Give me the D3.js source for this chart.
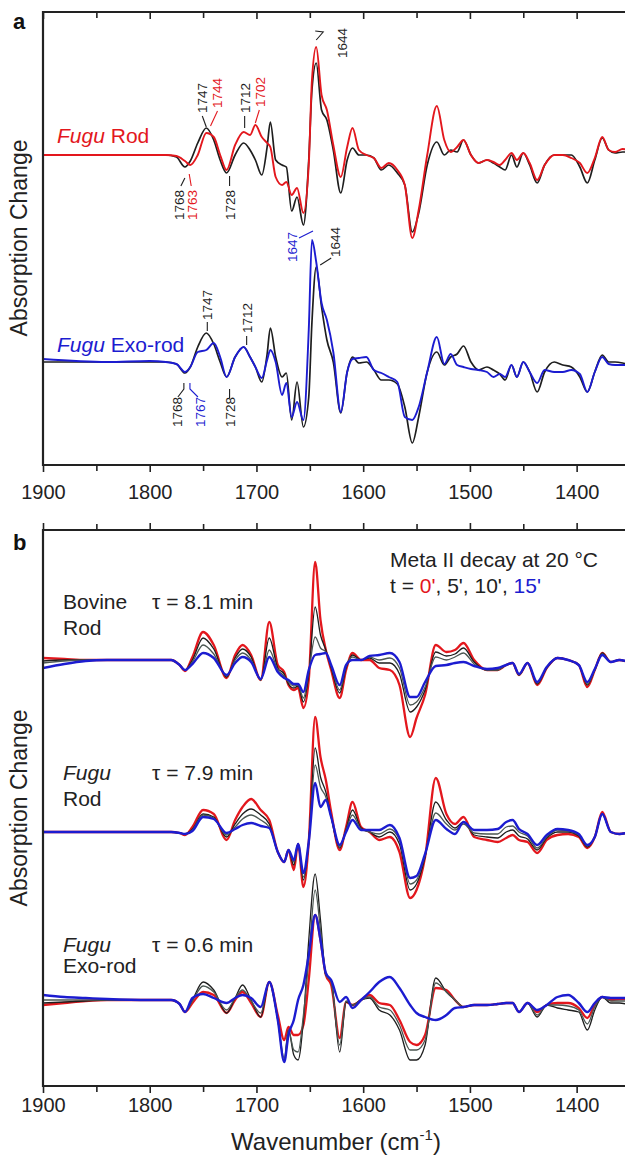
<!DOCTYPE html>
<html>
<head>
<meta charset="utf-8">
<script src="https://cdn.jsdelivr.net/npm/d3@7"></script>
<style>
body { margin: 0; background: #fff; }
text { font-family: Arial, "Liberation Sans", sans-serif; }
</style>
</head>
<body>
<div id="fig"></div>
<script>
// ---- data ----
var majorTicks = [1900, 1800, 1700, 1600, 1500, 1400];
var minorTicks = [1850, 1750, 1650, 1550, 1450];

// panel a: wavenumber grid
var wnA = [1900,1840,1800,1785,1775,1767,1762,1755,1747,1740,
           1734,1728,1720,1712,1706,1701,1695,1690,1687,1682,
           1676,1672,1667,1662,1656,1651,1648,1644,1639,1634,
           1628,1621,1615,1610,1604,1597,1590,1583,1576,1568,
           1561,1554,1548,1540,1531,1524,1518,1512,1506,1499,
           1492,1484,1478,1472,1467,1461,1456,1450,1444,1437,
           1430,1421,1413,1405,1397,1390,1383,1376,1370,1364,
           1357,1350];
// upper pair: bovine rod (black) vs Fugu rod (red)
var aRodBlack = [0,0,0,0,-2,-12,-6,12,27,15,
                 -5,-18,0,12,5,-5,-20,8,33,-5,
                 -10,-12,-56,-42,-70,-5,65,92,45,35,
                 5,-38,-5,7,0,0,-3,-15,-10,-18,
                 -30,-77,-58,-10,13,0,5,3,15,0,
                 -8,-5,-8,-12,-15,0,-12,2,-10,-28,
                 -10,0,0,0,-12,-28,-5,17,5,2,
                 3,3];
var aRodRed = [0,0,0,0,-1,-6,-10,0,22,18,
               0,-15,10,23,20,30,18,12,8,-22,
               -30,-27,-40,-33,-58,-10,75,108,60,45,
               10,-22,8,27,5,0,-3,-13,-8,-15,
               -30,-83,-55,0,49,15,3,8,15,0,
               -8,-5,-7,-10,-5,2,-5,2,-8,-25,
               -10,0,0,-3,-8,-18,-3,18,5,3,
               6,5];
// lower pair: bovine rod (black) vs Fugu exo-rod (blue)
var aExoBlack = [0,0,0,0,-2,-11,-5,15,29,18,
                 0,-15,5,15,5,-5,-20,8,34,5,
                 -15,-11,-58,-20,-65,-35,40,95,55,22,
                 0,-51,-10,5,-1,0,-8,-18,-18,-22,
                 -45,-81,-55,-10,10,-3,5,8,16,0,
                 -8,-5,-8,-12,-18,-3,-15,0,-10,-30,
                 -10,0,-3,-5,-15,-30,-10,7,0,0,
                 -1,-3];
var aExoBlue = [3,0,1,0,-2,-10,-5,10,12,19,
                5,-15,5,15,5,-5,-16,2,12,0,
                -33,-21,-55,-40,-58,32,122,100,59,42,
                10,-50,-10,3,4,5,-8,-11,-15,-20,
                -55,-58,-45,-10,25,-2,8,-3,-5,-7,
                -8,-10,-15,-12,-15,-3,-15,0,-10,-21,
                -8,-10,-10,-8,-12,-30,-10,5,-2,-3,
                -3,-3];

// panel b: Meta II decay, t = 0', 5', 10', 15'
var wnB = [1900,1880,1860,1840,1800,1780,1772,1767,1760,1750,
           1740,1728,1720,1713,1705,1696,1688,1680,1674,1670,
           1665,1661,1656,1651,1645,1640,1635,1630,1622,1616,
           1610,1602,1594,1585,1575,1566,1556,1550,1542,1532,
           1522,1514,1506,1496,1484,1474,1466,1460,1454,1446,
           1437,1428,1418,1408,1398,1390,1383,1376,1368,1360,1350];
var bovT0  = [2,1,0,0,0,0,-5,-11,3,28, 15,-18,5,15,5,-20,38,-5,-12,-25,
              -30,-28,-48,-20,98,40,10,-10,-38,-10, 7,0,0,-8,-10,-25,-77,-58,-35,15,
              8,10,17,0,-10,-10,-5,-3,-15,-3, -25,-8,2,0,-5,-27,-10,7,-2,0,-3];
var bovT5  = [-1,0,0,0,0,0,-5,-10,0,22, 11,-17,2,11,3,-20,22,-8,-14,-24,
              -28,-26,-42,-15,53,25,10,-8,-33,-8, 5,0,2,-3,-3,-14,-52,-47,-30,8,
              4,6,12,-2,-10,-10,-5,-3,-15,-3, -24,-8,2,0,-5,-25,-10,7,-2,0,-3];
var bovT10 = [-3,-1,0,0,0,0,-5,-10,-2,15, 6,-16,0,7,0,-20,10,-10,-16,-22,
              -26,-25,-38,-12,23,12,8,-6,-30,-6, 3,0,3,0,2,-8,-45,-42,-27,3,
              0,3,7,-4,-10,-10,-5,-3,-15,-3, -23,-7,2,0,-5,-24,-10,6,-2,0,-3];
var bovT15 = [-8,-4,-1,0,0,0,-5,-10,-4,7, 2,-15,-3,3,-2,-19,3,-12,-18,-20,
              -24,-24,-32,-10,5,6,7,-5,-25,-5, 0,0,4,5,7,-2,-37,-37,-22,-6,
              -5,-3,-2,-6,-9,-8,-5,-3,-14,-3, -22,-7,2,0,-5,-22,-9,5,-2,0,-2];
var rodT0  = [0,0,0,0,0,0,-1,-3,5,22, 18,-8,12,25,33,22,12,-20,-30,-18,
              -38,-12,-55,-10,115,75,52,20,-18,5, 30,5,0,-8,-5,-20,-66,-58,-25,54,
              18,8,15,-5,-8,-10,-6,-3,-8,-10, -21,-8,-3,-2,-5,-16,-5,20,0,-2,0];
var rodT5  = [0,0,0,0,0,0,-1,-2,3,18, 15,-5,8,18,23,17,8,-20,-30,-18,
              -33,-12,-48,-10,84,55,40,15,-16,3, 22,4,0,-5,0,-12,-58,-52,-25,30,
              12,4,10,-3,-5,-6,0,2,-4,-7, -18,-6,0,0,-4,-15,-5,18,0,-2,0];
var rodT10 = [0,0,0,0,0,0,-1,-2,2,17, 14,-3,5,13,17,12,5,-20,-30,-18,
              -30,-12,-45,-10,67,45,35,15,-15,2, 17,3,0,-2,3,-8,-52,-48,-23,19,
              8,2,8,-1,-2,-2,5,6,0,-4, -16,-5,2,1,-3,-14,-5,18,0,-2,0];
var rodT15 = [0,0,0,0,0,0,-1,-2,1,15, 13,-1,3,7,9,6,4,-20,-30,-18,
              -28,-12,-41,-10,49,25,32,15,-13,0, 12,2,2,2,7,-6,-46,-44,-22,12,
              3,-2,10,2,2,3,10,12,3,-2, -13,-3,3,2,-2,-13,-5,18,0,-2,0];
var exoT0  = [-5,-3,-1,0,0,0,-4,-12,-3,8, 5,-13,0,8,-3,-17,18,-15,-40,-27,
              -35,-35,-25,20,85,60,25,15,-38,-2, -5,0,5,-3,-5,-20,-42,-45,-35,12,
              10,0,-7,-5,-5,-4,-3,-3,-12,-3, -12,-5,-3,-3,-8,-18,-5,3,0,1,1];
var exoT5  = [-3,-2,-1,0,0,0,-4,-12,0,18, 10,-13,2,15,0,-17,18,-20,-62,-30,
              -55,-60,-20,60,126,80,25,20,-52,-2, -5,0,2,-10,-15,-30,-60,-60,-45,22,
              8,0,-7,-5,-5,-4,-3,-3,-12,-3, -17,-5,-8,-10,-12,-30,-10,3,-3,-3,-5];
var exoT10 = [0,0,0,0,0,0,-4,-12,-1,14, 8,-10,2,10,-1,-13,18,-20,-58,-30,
              -50,-52,-15,40,110,70,25,18,-45,-1, -5,0,3,-7,-10,-25,-50,-50,-40,17,
              8,0,-7,-5,-5,-4,-3,-3,-12,-3, -15,-5,-5,-6,-10,-24,-7,3,-1,-1,-1];
var exoT15 = [5,3,2,1,0,0,-4,-12,2,6, 2,-3,2,5,2,-7,18,-20,-62,-35,
              -20,0,15,45,85,60,27,20,-2,3, -8,0,8,18,23,12,-5,-13,-17,-20,
              -15,-8,-7,-5,-5,-4,-3,-3,-12,-3, -10,-5,3,5,-3,-12,-3,3,2,2,2];

// peak labels of panel a
var peaksUpper = [
  {t: "1768", c: "k", wn: 1768, dx: 0,  y: 220, lead: [[-3,186],[1,178]]},
  {t: "1763", c: "r", wn: 1763, dx: 8,  y: 220, lead: [[2,186],[0,174]]},
  {t: "1728", c: "k", wn: 1728, dx: 8,  y: 220, lead: [[3,186],[3,176]]},
  {t: "1747", c: "k", wn: 1747, dx: 1,  y: 113, lead: [[-4,116],[0,127]]},
  {t: "1744", c: "r", wn: 1744, dx: 13, y: 108, lead: [[8,111],[1,126]]},
  {t: "1712", c: "k", wn: 1712, dx: 6,  y: 113, lead: [[1,116],[1,128]]},
  {t: "1702", c: "r", wn: 1702, dx: 11, y: 107, lead: [[5,110],[1,123]]},
  {t: "1644", c: "k", wn: 1644, dx: 31, y: 58,  lead: [[0,40],[7,32],[-1,31]]}
];
var peaksLower = [
  {t: "1647", c: "b", wn: 1647, dx: -16, y: 262, lead: [[-14,238],[0,231]]},
  {t: "1644", c: "k", wn: 1644, dx: 24,  y: 257, lead: [[4,265],[15,258]]},
  {t: "1747", c: "k", wn: 1747, dx: 6,   y: 320, lead: [[1,322],[1,331]]},
  {t: "1712", c: "k", wn: 1712, dx: 8,   y: 333, lead: [[3,336],[3,345]]},
  {t: "1768", c: "k", wn: 1768, dx: -2,  y: 427, lead: [[-6,397],[0,389],[0,383]]},
  {t: "1767", c: "b", wn: 1767, dx: 20,  y: 427, lead: [[13,397],[5,389],[5,383]]},
  {t: "1728", c: "k", wn: 1728, dx: 8,   y: 427, lead: [[3,398],[3,389]]}
];

// ---- layout ----
var W = 625, H = 1158;
var col = {k: "#1e1e1e", g: "#4b5752", r: "#e3171d", b: "#1c1cd0"};
var svg = d3.select("#fig").append("svg").attr("width", W).attr("height", H);

var x = d3.scaleLinear().domain([1900, 1350]).range([43, 630]);
var yA = d3.scaleLinear().domain([0, 453]).range([465, 12]);
var yB = d3.scaleLinear().domain([0, 556]).range([1086, 530]);

function clip(id, top, bottom) {
    svg.append("clipPath").attr("id", id).append("rect")
        .attr("x", 43).attr("y", top).attr("width", 590).attr("height", bottom - top);
}
clip("clipA", 12, 465);
clip("clipB", 530, 1086);

function trace(g, wn, vals, y, offset, color, width) {
    var pts = wn.map(function(w, i) { return [w, vals[i]]; });
    g.append("path")
        .datum(pts)
        .attr("fill", "none")
        .attr("stroke", color)
        .attr("stroke-width", width)
        .attr("stroke-linejoin", "round")
        .attr("d", d3.line()
            .x(function(d) { return x(d[0]); })
            .y(function(d) { return y(d[1] + offset); })
            .curve(d3.curveMonotoneX));
}

function axes(top, bottom, topInward, labelPad) {
    // top axis
    var gt = svg.append("g").attr("transform", "translate(0," + top + ")");
    gt.call((topInward ? d3.axisBottom(x) : d3.axisTop(x)).tickValues(majorTicks).tickSize(7).tickFormat(""));
    var gt2 = svg.append("g").attr("transform", "translate(0," + top + ")");
    gt2.call((topInward ? d3.axisBottom(x) : d3.axisTop(x)).tickValues(minorTicks).tickSize(6).tickFormat(""));
    // bottom axis
    var gb = svg.append("g").attr("transform", "translate(0," + bottom + ")");
    gb.call(d3.axisBottom(x).tickValues(majorTicks).tickSize(7).tickPadding(labelPad).tickFormat(d3.format("d")));
    var gb2 = svg.append("g").attr("transform", "translate(0," + bottom + ")");
    gb2.call(d3.axisBottom(x).tickValues(minorTicks).tickSize(6).tickFormat(""));
    [gt, gt2, gb, gb2].forEach(function(g) {
        g.select(".domain").remove();
        g.selectAll(".tick line").attr("stroke", "#222").attr("stroke-width", 1.6);
        g.selectAll(".tick text").attr("font-size", 20).attr("fill", "#222")
            .style("font-family", "Arial, 'Liberation Sans', sans-serif");
    });
    // frame
    svg.append("path")
        .attr("d", "M630," + top + "H43V" + bottom + "H630")
        .attr("fill", "none").attr("stroke", "#222").attr("stroke-width", 2.2);
}

// ---- panel a ----
var ga = svg.append("g").attr("clip-path", "url(#clipA)");
trace(ga, wnA, aRodBlack, yA, 310, col.k, 1.7);
trace(ga, wnA, aRodRed, yA, 310, col.r, 1.9);
trace(ga, wnA, aExoBlack, yA, 103, col.k, 1.7);
trace(ga, wnA, aExoBlue, yA, 103, col.b, 1.9);
axes(12, 465, true, 13);

function peakLabels(list) {
    list.forEach(function(p) {
        var x0 = x(p.wn);
        svg.append("polyline")
            .attr("points", p.lead.map(function(q) { return (x0 + q[0]) + "," + q[1]; }).join(" "))
            .attr("fill", "none").attr("stroke", col[p.c]).attr("stroke-width", 1.1);
        svg.append("text")
            .attr("transform", "translate(" + (x0 + p.dx) + "," + p.y + ") rotate(-90)")
            .attr("font-size", 13.5)
            .attr("fill", col[p.c])
            .text(p.t);
    });
}
peakLabels(peaksUpper);
peakLabels(peaksLower);

function nameLabel(xp, yp, color, rest) {
    var t = svg.append("text").attr("x", xp).attr("y", yp).attr("font-size", 21).attr("fill", color);
    t.append("tspan").attr("font-style", "italic").text("Fugu");
    t.append("tspan").text(rest);
}
nameLabel(57, 143, col.r, " Rod");
nameLabel(57, 352, col.b, " Exo-rod");

svg.append("text").attr("x", 13).attr("y", 29)
    .attr("font-size", 22).attr("font-weight", "bold").attr("fill", "#111").text("a");
svg.append("text").attr("x", 13).attr("y", 550)
    .attr("font-size", 22).attr("font-weight", "bold").attr("fill", "#111").text("b");

// ---- panel b ----
var gb = svg.append("g").attr("clip-path", "url(#clipB)");
[[bovT0, bovT5, bovT10, bovT15, 426],
 [rodT0, rodT5, rodT10, rodT15, 254],
 [exoT0, exoT5, exoT10, exoT15, 86]].forEach(function(s) {
    trace(gb, wnB, s[0], yB, s[4], col.r, 2.3);
    trace(gb, wnB, s[1], yB, s[4], col.k, 1.3);
    trace(gb, wnB, s[2], yB, s[4], col.g, 1.3);
    trace(gb, wnB, s[3], yB, s[4], col.b, 2.4);
});
axes(530, 1086, false, 5);

function groupLabel(y1, y2, italic, first, second, tau) {
    var a = svg.append("text").attr("x", 63).attr("y", y1).attr("font-size", 21).attr("fill", "#222")
        .text(first);
    if (italic) a.attr("font-style", "italic");
    svg.append("text").attr("x", 63).attr("y", y2).attr("font-size", 21).attr("fill", "#222").text(second);
    svg.append("text").attr("x", 152).attr("y", y1).attr("font-size", 21).attr("fill", "#222").text(tau);
}
groupLabel(609, 635, false, "Bovine", "Rod", "\u03c4 = 8.1 min");
groupLabel(780, 806, true, "Fugu", "Rod", "\u03c4 = 7.9 min");
groupLabel(952, 973, true, "Fugu", "Exo-rod", "\u03c4 = 0.6 min");

svg.append("text").attr("x", 390).attr("y", 567).attr("font-size", 21).attr("fill", "#222")
    .text("Meta II decay at 20 \u00b0C");
var leg = svg.append("text").attr("x", 390).attr("y", 593).attr("font-size", 21).attr("fill", "#222");
leg.append("tspan").text("t = ");
leg.append("tspan").attr("fill", col.r).text("0'");
leg.append("tspan").text(", 5', 10', ");
leg.append("tspan").attr("fill", col.b).text("15'");

// axis titles
[238, 808].forEach(function(cy) {
    svg.append("text")
        .attr("transform", "translate(27," + cy + ") rotate(-90)")
        .attr("text-anchor", "middle")
        .attr("font-size", 23).attr("fill", "#222")
        .text("Absorption Change");
});
var xt = svg.append("text").attr("x", 336).attr("y", 1150).attr("text-anchor", "middle")
    .attr("font-size", 24).attr("fill", "#222");
xt.append("tspan").text("Wavenumber (cm");
xt.append("tspan").attr("font-size", 15).attr("dy", -10).text("-1");
xt.append("tspan").attr("dy", 10).text(")");
</script>
</body>
</html>
